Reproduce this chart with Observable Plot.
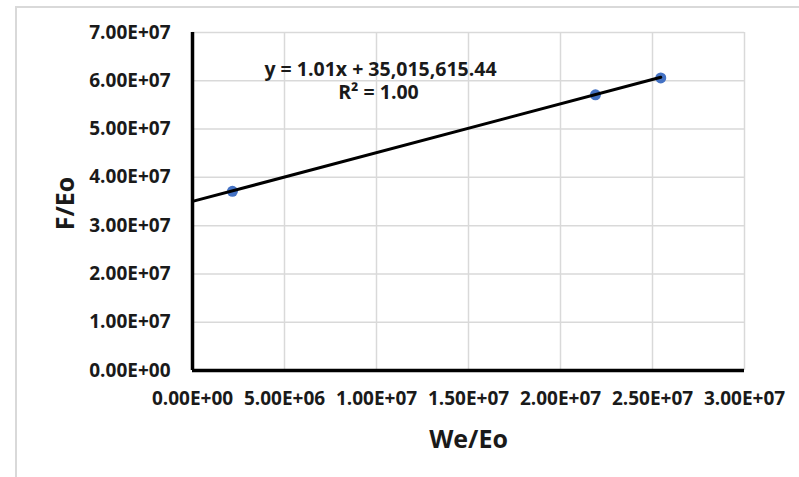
<!DOCTYPE html>
<html>
<head>
<meta charset="utf-8">
<script src="https://cdn.jsdelivr.net/npm/d3@7"></script>
<script src="https://cdn.jsdelivr.net/npm/@observablehq/plot@0.6"></script>
<style>
  html, body { margin: 0; padding: 0; background: #fff; }
  #wrap { position: relative; width: 799px; height: 477px; overflow: hidden; }
  #frame { position: absolute; left: 15px; top: 6px; width: 800px; height: 480px;
           border-left: 2px solid #d9d9d9; border-top: 2px solid #d9d9d9; }
  #chart { position: absolute; left: 0; top: 0; }
</style>
</head>
<body>
<div id="wrap"><div id="frame"></div><div id="chart"></div></div>
<script>
// Data
const weEo = [2.17e6, 2.19e7, 2.545e7];
const fEo  = [3.71e7, 5.71e7, 6.06e7];

// Trendline (as displayed in the chart)
const slope = 1.01;
const intercept = 35015615.44;
const equationText = "y = 1.01x + 35,015,615.44";
const r2Text = "R² = 1.00";

// Axis ticks
const xTicks = [0, 5e6, 1e7, 1.5e7, 2e7, 2.5e7, 3e7];
const xTickLabels = ["0.00E+00", "5.00E+06", "1.00E+07", "1.50E+07", "2.00E+07", "2.50E+07", "3.00E+07"];
const yTicks = [0, 1e7, 2e7, 3e7, 4e7, 5e7, 6e7, 7e7];
const yTickLabels = ["0.00E+00", "1.00E+07", "2.00E+07", "3.00E+07", "4.00E+07", "5.00E+07", "6.00E+07", "7.00E+07"];

const xLabel = "We/Eo";
const yLabel = "F/Eo";

const points = weEo.map((x, i) => ({x, y: fEo[i]}));
const xMaxData = d3.max(weEo);
const trend = [
  {x: 0, y: intercept},
  {x: xMaxData, y: slope * xMaxData + intercept}
];

const font = "'Open Sans', sans-serif";
const fs = 19;
const fsEq = 19.5;

const chart = Plot.plot({
  width: 799,
  height: 477,
  marginLeft: 192,
  marginRight: 55,
  marginTop: 32,
  marginBottom: 107,
  style: {fontFamily: font, background: "transparent", color: "#1a1a1a"},
  x: {domain: [0, 3e7]},
  y: {domain: [0, 7e7]},
  marks: [
    Plot.gridX(xTicks, {stroke: "#d9d9d9", strokeOpacity: 1, strokeWidth: 1.5}),
    Plot.gridY(yTicks, {stroke: "#d9d9d9", strokeOpacity: 1, strokeWidth: 1.5}),
    Plot.axisX({ticks: xTicks, tickFormat: (d, i) => xTickLabels[i], tickSize: 0, tickPadding: 21,
      fontSize: fs, fontWeight: 700, label: null}),
    Plot.axisY({ticks: yTicks, tickFormat: (d, i) => yTickLabels[i], tickSize: 0, tickPadding: 22,
      fontSize: fs, fontWeight: 700, label: null}),
    Plot.ruleX([0], {stroke: "#000", strokeWidth: 3.5}),
    Plot.ruleY([0], {stroke: "#000", strokeWidth: 3.5}),
    Plot.dot(points, {x: "x", y: "y", r: 5.5, fill: "#4472c4", stroke: "none"}),
    Plot.line(trend, {x: "x", y: "y", stroke: "#000", strokeWidth: 3}),
    Plot.text([equationText], {frameAnchor: "top-left", dx: 188, dy: 37, text: d => d, lineAnchor: "middle",
      fontSize: fsEq, fontWeight: 700, textAnchor: "middle", fill: "#1a1a1a"}),
    Plot.text([r2Text], {frameAnchor: "top-left", dx: 186, dy: 60, text: d => d, lineAnchor: "middle",
      fontSize: fsEq, fontWeight: 700, textAnchor: "middle", fill: "#1a1a1a"}),
    Plot.text([yLabel], {frameAnchor: "left", dx: -127, dy: 2, rotate: -90, text: d => d,
      textAnchor: "middle", lineAnchor: "middle", fontSize: 25, fontWeight: 700, fill: "#1a1a1a"}),
    Plot.text([xLabel], {frameAnchor: "bottom", dy: 69, text: d => d, lineAnchor: "middle",
      textAnchor: "middle", fontSize: 25, fontWeight: 700, fill: "#1a1a1a"})
  ]
});
document.getElementById("chart").appendChild(chart);
</script>
</body>
</html>
